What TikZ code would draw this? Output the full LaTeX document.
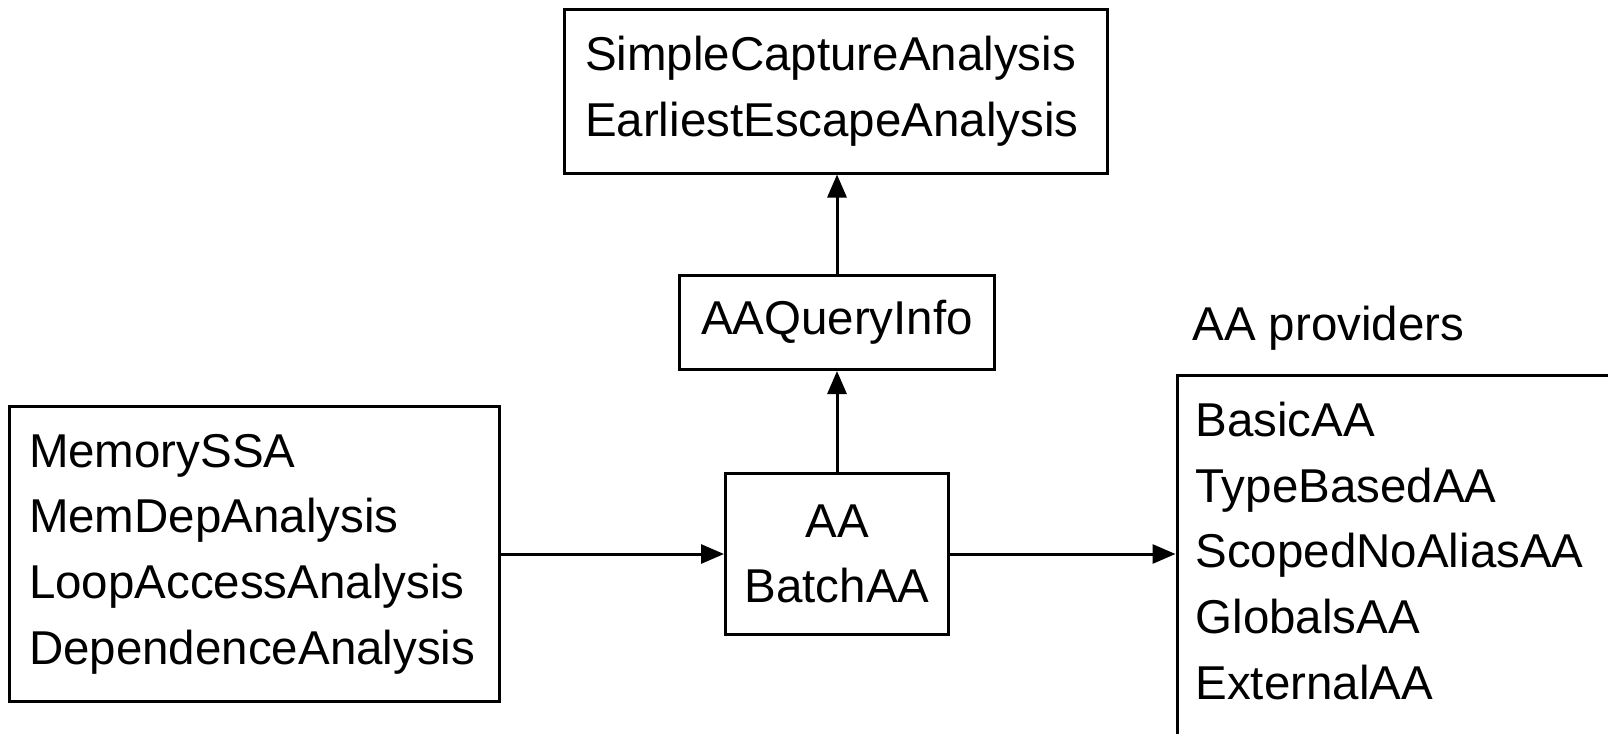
\documentclass[tikz,border=0pt]{standalone}
\usepackage{fontspec}
\setmainfont{Liberation Sans}
\usetikzlibrary{arrows.meta}
\begin{document}
\begin{tikzpicture}[x=0.5pt,y=-0.5pt,
  every node/.style={font=\fontsize{23.75pt}{32.85pt}\selectfont},
  box/.style={draw, line width=1.5pt, rectangle, inner ysep=0pt},
  conn/.style={line width=1.5pt, -{Triangle[length=11.5pt,width=9.5pt]}}]
\useasboundingbox (0,0) rectangle (1608,734);
\clip (0,0) rectangle (1608,734);
% top box
\node[box, align=left, text width=251pt, inner xsep=10.25pt, minimum height=82pt]
  (cap) at (836,91) {SimpleCaptureAnalysis\\EarliestEscapeAnalysis};
% AAQueryInfo
\node[box, minimum width=157.5pt, minimum height=47pt] (qi) at (837,322.5) {AAQueryInfo};
% AA / BatchAA
\node[box, align=center, minimum width=111.5pt, minimum height=80.5pt] (aa) at (837,554) {AA\\BatchAA};
% users
\node[box, align=left, text width=225.25pt, inner xsep=9.75pt, minimum height=147.5pt]
  (users) at (254.25,554) {MemorySSA\\MemDepAnalysis\\LoopAccessAnalysis\\DependenceAnalysis};
% providers
\node[box, anchor=north west, align=left, text width=250pt, inner xsep=9.25pt, inner ysep=13.5pt]
  (prov) at (1175.5,373.5) {BasicAA\\TypeBasedAA\\ScopedNoAliasAA\\GlobalsAA\\ExternalAA\\\rule{0pt}{40pt}};
\node[anchor=base west, inner sep=0pt] (provlabel) at (1192,340) {AA providers};
% connectors
\draw[conn] (users.east) -- (aa.west);
\draw[conn] (aa.north) -- (qi.south);
\draw[conn] (qi.north) -- (qi.north |- cap.south);
\draw[conn] (aa.east) -- (aa.east -| prov.west);
\end{tikzpicture}
\end{document}
